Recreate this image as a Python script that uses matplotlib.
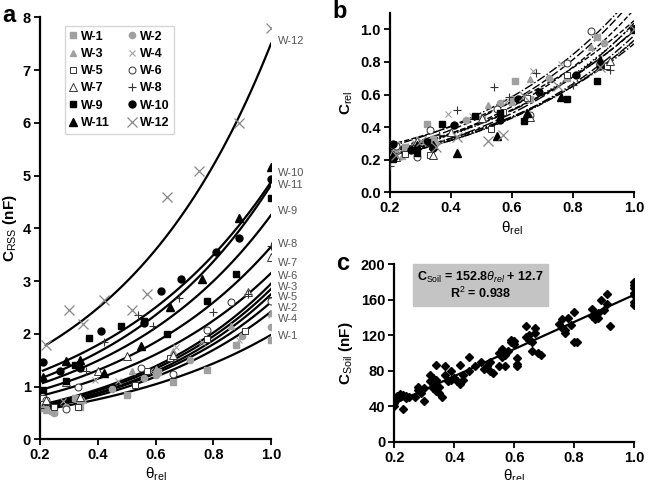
import numpy as np
import matplotlib.pyplot as plt

plt.rcParams['font.family'] = ['Liberation Sans', 'DejaVu Sans']
plt.rcParams['mathtext.fontset'] = 'custom'
plt.rcParams['mathtext.rm'] = 'Liberation Sans'
plt.rcParams['mathtext.it'] = 'Liberation Sans:italic'
plt.rcParams['mathtext.bf'] = 'Liberation Sans:bold'

# ---------------- data: panel a (C_RSS per well) ----------------
wells = ['W-1', 'W-2', 'W-3', 'W-4', 'W-5', 'W-6',
         'W-7', 'W-8', 'W-9', 'W-10', 'W-11', 'W-12']

theta_w1 = [0.22, 0.25, 0.32, 0.34, 0.50, 0.61, 0.66, 0.78, 0.88, 1.0]
c_w1 = [0.55, 0.52, 0.79, 0.61, 0.84, 1.28, 1.08, 1.32, 1.79, 1.88]
theta_w2 = [0.22, 0.25, 0.29, 0.34, 0.45, 0.56, 0.60, 0.72, 0.90, 1.0]
c_w2 = [0.58, 0.50, 0.62, 0.70, 0.95, 1.17, 1.22, 1.50, 1.95, 2.13]
theta_w3 = [0.21, 0.24, 0.35, 0.52, 0.60, 0.66, 0.86, 1.0]
c_w3 = [0.60, 0.53, 0.75, 1.29, 1.33, 1.67, 2.14, 2.40]
theta_w4 = [0.22, 0.28, 0.39, 0.47, 0.58, 0.67, 0.76, 0.89, 1.0]
c_w4 = [0.60, 0.72, 1.13, 1.10, 1.30, 1.75, 1.85, 1.88, 2.35]
theta_w5 = [0.21, 0.25, 0.33, 0.53, 0.57, 0.65, 0.78, 0.91, 1.0]
c_w5 = [0.78, 0.62, 0.61, 1.03, 1.30, 1.54, 1.90, 2.05, 2.65]
theta_w6 = [0.22, 0.29, 0.33, 0.55, 0.66, 0.78, 0.86, 1.0]
c_w6 = [0.75, 0.57, 1.00, 1.35, 1.24, 2.08, 2.60, 2.63]
theta_w7 = [0.22, 0.29, 0.34, 0.40, 0.50, 0.66, 0.92, 1.0]
c_w7 = [0.75, 1.08, 0.80, 1.29, 1.58, 1.60, 2.79, 3.46]
theta_w8 = [0.20, 0.36, 0.42, 0.54, 0.59, 0.68, 0.80, 0.92, 1.0]
c_w8 = [0.59, 1.30, 1.85, 2.36, 2.15, 2.68, 2.41, 2.75, 3.67]
theta_w9 = [0.21, 0.29, 0.32, 0.37, 0.48, 0.56, 0.64, 0.78, 0.88, 1.0]
c_w9 = [0.94, 1.11, 1.41, 1.92, 2.14, 2.24, 2.00, 2.62, 3.14, 4.58]
theta_w10 = [0.21, 0.27, 0.34, 0.41, 0.56, 0.62, 0.69, 0.81, 0.89, 1.0]
c_w10 = [1.46, 1.29, 1.35, 2.05, 2.20, 2.82, 3.03, 3.55, 3.82, 4.93]
theta_w11 = [0.21, 0.29, 0.34, 0.42, 0.55, 0.65, 0.76, 0.89, 1.0]
c_w11 = [1.19, 1.49, 1.50, 1.25, 1.77, 2.51, 3.03, 4.19, 5.17]
theta_w12 = [0.22, 0.30, 0.35, 0.42, 0.52, 0.57, 0.64, 0.75, 0.89, 1.0]
c_w12 = [1.79, 2.46, 2.19, 2.65, 2.46, 2.76, 4.60, 5.08, 5.99, 7.80]

thetas = [theta_w1, theta_w2, theta_w3, theta_w4, theta_w5, theta_w6,
          theta_w7, theta_w8, theta_w9, theta_w10, theta_w11, theta_w12]
caps = [c_w1, c_w2, c_w3, c_w4, c_w5, c_w6,
        c_w7, c_w8, c_w9, c_w10, c_w11, c_w12]

# exponential trendlines, read as fitted value at theta=0.2 and theta=1.0
trend_start = [0.55, 0.60, 0.63, 0.58, 0.60, 0.65, 0.82, 0.93, 1.05, 1.28, 1.15, 1.72]
trend_end = [1.98, 2.60, 2.85, 2.42, 2.75, 2.95, 3.15, 3.65, 4.25, 4.88, 4.82, 7.50]

# ---------------- data: panel c (C_Soil) ----------------
theta_soil = [0.20, 0.20, 0.21, 0.21, 0.22, 0.22, 0.23, 0.23, 0.24, 0.24, 0.25,
              0.27, 0.28, 0.28, 0.29, 0.30, 0.30,
              0.32, 0.32, 0.33, 0.33, 0.34, 0.34, 0.34, 0.35, 0.35, 0.36, 0.33,
              0.37, 0.37, 0.38, 0.39, 0.39, 0.40, 0.41, 0.42, 0.42, 0.43, 0.43,
              0.45, 0.45, 0.47, 0.49, 0.50, 0.51, 0.52, 0.52, 0.53,
              0.55, 0.55, 0.56, 0.56, 0.57, 0.57, 0.58, 0.59, 0.59, 0.60, 0.60, 0.61, 0.61, 0.61,
              0.64, 0.64, 0.65, 0.65, 0.66, 0.66, 0.67, 0.67, 0.68, 0.69,
              0.75, 0.76, 0.76, 0.77, 0.77, 0.78, 0.79, 0.80, 0.80, 0.81,
              0.86, 0.86, 0.87, 0.88, 0.88, 0.89, 0.90, 0.91, 0.91, 0.92,
              1.0, 1.0, 1.0, 1.0, 1.0, 1.0, 1.0]
c_soil = [40, 44, 48, 52, 50, 54, 53, 37, 51, 49, 50,
          50, 62, 58, 55, 46, 60,
          75, 68, 72, 65, 87, 70, 57, 55, 62, 50, 60,
          85, 75, 68, 80, 70, 72, 68, 86, 65, 70, 75,
          96, 80, 85, 90, 82, 85, 90, 80, 78,
          100, 85, 105, 95, 98, 85, 102, 112, 115, 113, 110, 94, 85, 88,
          130, 118, 115, 120, 112, 102, 128, 122, 100, 98,
          133, 138, 128, 122, 126, 140, 132, 112, 146, 112,
          150, 142, 138, 145, 140, 160, 148, 167, 155, 130,
          180, 177, 173, 168, 165, 157, 154]
soil_slope = 152.8
soil_intercept = 12.7
soil_r2 = 0.938

# ---------------- styles ----------------
grey = '#a0a0a0'
mk = [dict(marker='s', mfc=grey, mec=grey, ms=4.5),
      dict(marker='o', mfc=grey, mec=grey, ms=4.5),
      dict(marker='^', mfc=grey, mec=grey, ms=5),
      dict(marker='x', mfc=grey, mec=grey, ms=4.5, mew=0.8),
      dict(marker='s', mfc='white', mec='#333333', ms=5, mew=0.7),
      dict(marker='o', mfc='white', mec='#333333', ms=5, mew=0.7),
      dict(marker='^', mfc='white', mec='#333333', ms=5.5, mew=0.7),
      dict(marker='+', mfc='#333333', mec='#333333', ms=6, mew=0.8),
      dict(marker='s', mfc='black', mec='black', ms=5),
      dict(marker='o', mfc='black', mec='black', ms=5),
      dict(marker='^', mfc='black', mec='black', ms=5.5),
      dict(marker='x', mfc='#888888', mec='#888888', ms=6.5, mew=0.9)]
b_styles = ['--', '-.', (0, (6, 2)), ':', (0, (8, 2, 2, 2)), '--',
            '-.', (0, (10, 3)), ':', '--', (0, (5, 1, 1, 1)), '-.']
label_y = [1.96, 2.48, 2.89, 2.29, 2.69, 3.09, 3.34, 3.71, 4.32, 5.04, 4.83, 7.56]

tick_kw = dict(direction='out', length=4, width=1.3, labelsize=10.5, pad=2.5)

fig = plt.figure(figsize=(6.53, 4.80), dpi=100)
ax_a = fig.add_axes([40 / 653, 1 - 439.3 / 480, 231 / 653, 422 / 480])
ax_b = fig.add_axes([390 / 653, 1 - 192.3 / 480, 244 / 653, 179.3 / 480])
ax_c = fig.add_axes([394.3 / 653, 1 - 441.7 / 480, 239.7 / 653, 177.4 / 480])

for ax in (ax_a, ax_b, ax_c):
    for s in ('top', 'right'):
        ax.spines[s].set_visible(False)
    for s in ('left', 'bottom'):
        ax.spines[s].set_linewidth(1.6)
    ax.tick_params(**tick_kw)
    ax.set_xlim(0.2, 1.0)
    ax.set_xticks([0.2, 0.4, 0.6, 0.8, 1.0])
    ax.set_xticklabels(['0.2', '0.4', '0.6', '0.8', '1.0'], fontweight='bold')

# ---------------- panel a ----------------
for i in range(12):
    t = np.array(thetas[i])
    tt = np.linspace(t.min(), 1.0, 100)
    fit = trend_start[i] * (trend_end[i] / trend_start[i]) ** ((tt - 0.2) / 0.8)
    ax_a.plot(tt, fit, color='black', lw=1.6, zorder=2)
    ax_a.plot(thetas[i], caps[i], ls='none', label=wells[i], zorder=3, **mk[i])
    ax_a.text(1.025, label_y[i], wells[i], color='#555555', fontsize=8,
              va='center', ha='left', clip_on=False)
ax_a.set_ylim(0, 8)
ax_a.set_yticks(range(9))
ax_a.set_yticklabels([str(v) for v in range(9)], fontweight='bold')
ax_a.set_ylabel(r'C$_\mathrm{RSS}$ (nF)', fontsize=11, fontweight='bold', labelpad=3)
ax_a.set_xlabel(r'θ$_\mathrm{rel}$', fontsize=11, labelpad=2)
handles, labels = ax_a.get_legend_handles_labels()
order = [0, 2, 4, 6, 8, 10, 1, 3, 5, 7, 9, 11]
leg = ax_a.legend([handles[k] for k in order], [labels[k] for k in order],
                  ncol=2, loc='upper left', bbox_to_anchor=(0.08, 0.995),
                  frameon=True, fancybox=False, edgecolor='#cccccc',
                  handlelength=0.6, handletextpad=0.3, columnspacing=1.5,
                  labelspacing=0.42, borderpad=0.4,
                  prop={'weight': 'bold', 'size': 9})

# ---------------- panel b ----------------
for i in range(12):
    t = np.array(thetas[i])
    ref = caps[i][-1]
    tt = np.linspace(0.2, 1.0, 100)
    fit = trend_start[i] * (trend_end[i] / trend_start[i]) ** ((tt - 0.2) / 0.8)
    ax_b.plot(tt, fit / ref, color='black', lw=1.0, ls=b_styles[i], zorder=2)
    ax_b.plot(t, np.array(caps[i]) / ref, ls='none', zorder=3, **mk[i])
ax_b.set_ylim(0, 1.1)
ax_b.set_yticks([0.0, 0.2, 0.4, 0.6, 0.8, 1.0])
ax_b.set_yticklabels(['0.0', '0.2', '0.4', '0.6', '0.8', '1.0'], fontweight='bold')
ax_b.set_ylabel(r'C$_\mathrm{rel}$', fontsize=11, fontweight='bold', labelpad=4)
ax_b.set_xlabel(r'θ$_\mathrm{rel}$', fontsize=11, labelpad=3)

# ---------------- panel c ----------------
ax_c.plot(theta_soil, c_soil, ls='none', marker='D', color='black', ms=4, zorder=3)
tl = np.array([0.2, 1.0])
ax_c.plot(tl, soil_slope * tl + soil_intercept, color='black', lw=1.6, zorder=2)
ax_c.set_ylim(0, 200)
ax_c.set_yticks([0, 40, 80, 120, 160, 200])
ax_c.set_yticklabels(['0', '40', '80', '120', '160', '200'], fontweight='bold')
ax_c.set_ylabel(r'C$_\mathrm{Soil}$ (nF)', fontsize=11, fontweight='bold', labelpad=4)
ax_c.set_xlabel(r'θ$_\mathrm{rel}$', fontsize=11, labelpad=2)
ax_c.text(0.36, 0.88,
          r'C$_\mathrm{Soil}$ = %.1f$\it{θ}_{rel}$ + %.1f' % (soil_slope, soil_intercept)
          + '\n' + r'R$^2$ = %.3f' % soil_r2,
          transform=ax_c.transAxes, ha='center', va='center', fontsize=9,
          fontweight='bold', linespacing=1.1,
          bbox=dict(boxstyle='square,pad=0.35', fc='#c4c4c4', ec='#c4c4c4'))

# panel letters
fig.text(2 / 653, 1 - 16 / 480, 'a', fontsize=17, fontweight='bold', va='center')
fig.text(332 / 653, 1 - 11 / 480, 'b', fontsize=17, fontweight='bold', va='center')
fig.text(336 / 653, 1 - 264 / 480, 'c', fontsize=17, fontweight='bold', va='center')

fig.savefig('out.png', dpi=100)
